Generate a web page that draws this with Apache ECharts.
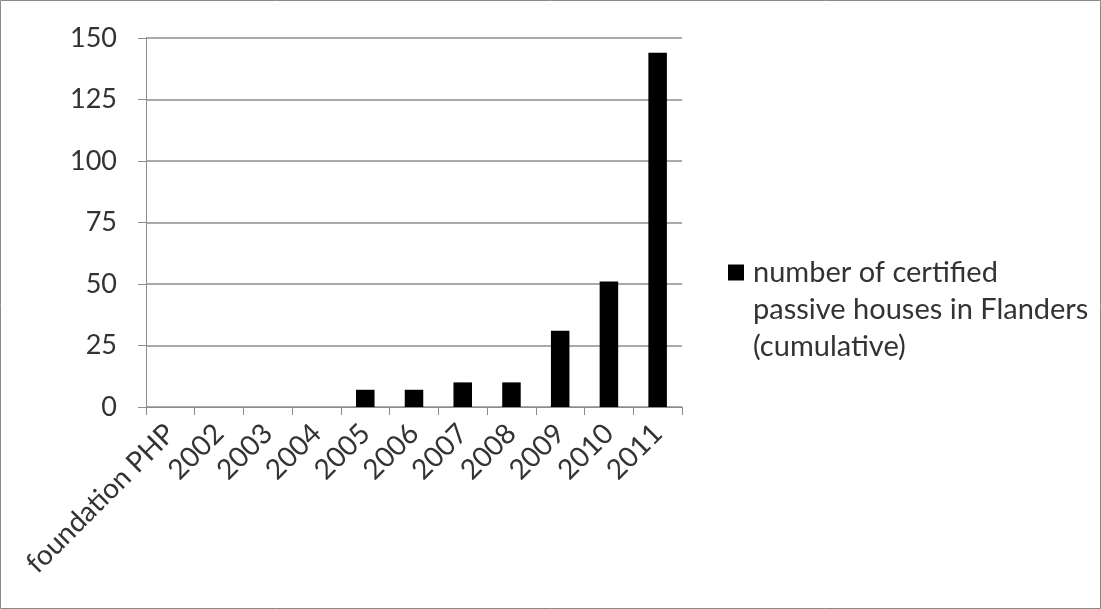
<!DOCTYPE html>
<html>
<head>
<meta charset="utf-8">
<script src="https://cdn.jsdelivr.net/npm/echarts@6/dist/echarts.min.js"></script>
<style>
  html, body { margin: 0; padding: 0; background: #fff; }
  #chart { width: 1101px; height: 609px; }
</style>
</head>
<body>
<div id="chart"></div>
<script>
// Certified passive houses in Flanders, cumulative count per year
const categories = ['foundation PHP', '2002', '2003', '2004', '2005', '2006', '2007', '2008', '2009', '2010', '2011'];
const houses = [0, 0, 0, 0, 7, 7, 10, 10, 31, 51, 144];
const seriesName = 'number of certified passive houses in Flanders (cumulative)';
const legendLines = ['number of certified', 'passive houses in Flanders', '(cumulative)'];
const yTicks = { min: 0, max: 150, interval: 25 };

const FONT = 'Lato';
const TEXT = '#333333';
const LINE = '#8c8c8c';
const LH = 37;

const chart = echarts.init(document.getElementById('chart'), null, { renderer: 'canvas' });
chart.setOption({
  animation: false,
  backgroundColor: '#ffffff',
  textStyle: { fontFamily: FONT },
  graphic: [{
    type: 'rect',
    shape: { x: 0.5, y: 0.5, width: 1100, height: 608 },
    style: { fill: 'none', stroke: '#8a8a8a', lineWidth: 1 },
    silent: true
  }],
  grid: { left: 146, right: 419, top: 38, bottom: 202 },
  legend: {
    left: 723,
    top: 175,
    orient: 'vertical',
    itemWidth: 24,
    itemHeight: 16,
    itemGap: 0,
    icon: 'path://M0,0H16V16H0Z',
    // two blank lines above keep the marker level with the first text line
    formatter: () => '\n\n' + legendLines.join('\n'),
    textStyle: { fontFamily: FONT, fontSize: 29, color: TEXT, lineHeight: LH }
  },
  xAxis: {
    type: 'category',
    data: categories,
    boundaryGap: true,
    axisLine: { lineStyle: { color: LINE, width: 1 } },
    axisTick: { show: true, length: 8, alignWithLabel: false, lineStyle: { color: LINE } },
    axisLabel: {
      interval: 0, rotate: 45, margin: 22,
      fontFamily: FONT, fontSize: 28, color: TEXT
    }
  },
  yAxis: {
    type: 'value',
    min: yTicks.min, max: yTicks.max, interval: yTicks.interval,
    axisLine: { show: true, lineStyle: { color: LINE, width: 1 } },
    axisTick: { show: true, length: 8, lineStyle: { color: LINE } },
    splitLine: { show: true, lineStyle: { color: LINE, width: 1.5 } },
    axisLabel: { margin: 29, fontFamily: FONT, fontSize: 27, color: TEXT }
  },
  series: [{
    name: seriesName,
    type: 'bar',
    data: houses,
    barCategoryGap: '62%',
    itemStyle: { color: '#000000' }
  }]
});
</script>
</body>
</html>
